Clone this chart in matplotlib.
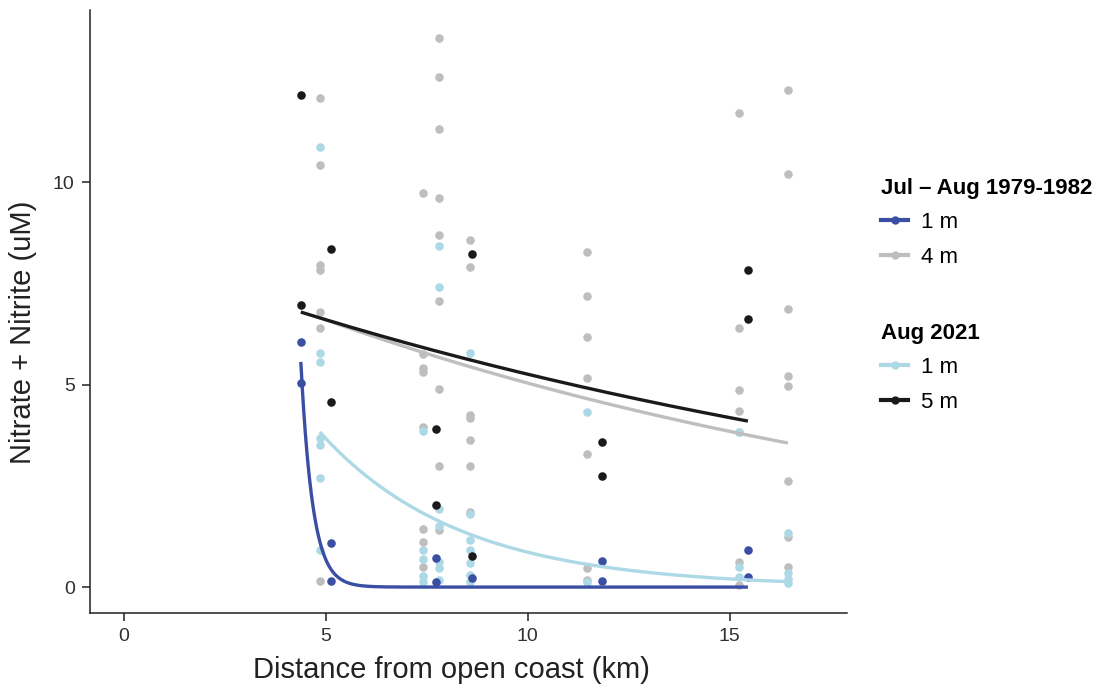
import numpy as np
import matplotlib
matplotlib.use('Agg')
import matplotlib.pyplot as plt
from matplotlib.lines import Line2D

plt.rcParams['font.family'] = ['Liberation Sans', 'DejaVu Sans']

# colours
c_dblue = '#3a4fa3'
c_grey = '#bebebe'
c_lblue = '#add8e6'
c_black = '#1a1a1a'

# points: (distance km, value uM)
dblue_x = [4.38, 4.38, 5.12, 5.12, 7.72, 7.72, 8.62, 11.83, 11.83, 15.45, 15.45]
dblue_y = [6.05, 5.04, 1.09, 0.15, 0.72, 0.12, 0.22, 0.64, 0.15, 0.91, 0.25]

black_x = [4.38, 4.38, 5.12, 5.12, 7.72, 7.72, 8.62, 8.62, 11.83, 11.83, 15.45, 15.45]
black_y = [12.15, 6.96, 8.35, 4.57, 3.90, 2.02, 8.22, 0.77, 3.58, 2.74, 7.83, 6.62]

grey_x = [4.85] * 7 + [7.40] * 8 + [7.80] * 9 + [8.58] * 7 + [11.46] * 7 + [15.22] * 7 + [16.44] * 8
grey_y = [12.07, 10.42, 7.95, 7.83, 6.79, 6.40, 0.15,
          9.73, 5.75, 5.41, 5.31, 3.95, 1.43, 1.11, 0.49,
          13.56, 12.59, 11.31, 9.60, 8.69, 7.06, 4.89, 2.99, 1.41,
          8.57, 7.90, 4.25, 4.17, 3.63, 2.99, 1.85,
          8.27, 7.19, 6.17, 5.16, 3.28, 0.47, 0.17,
          11.70, 6.40, 4.86, 4.35, 3.83, 0.62, 0.05,
          12.27, 10.20, 6.86, 5.21, 4.96, 2.62, 1.23, 0.49]

lblue_x = [4.85] * 7 + [7.40] * 5 + [7.80] * 7 + [8.58] * 7 + [11.46] * 2 + [15.22] * 3 + [16.44] * 4
lblue_y = [10.86, 5.78, 5.56, 3.68, 3.51, 2.69, 0.91,
           3.85, 0.91, 0.69, 0.27, 0.12,
           8.42, 7.41, 1.93, 1.51, 0.62, 0.47, 0.17,
           5.78, 1.80, 1.16, 0.91, 0.59, 0.30, 0.12,
           4.32, 0.12,
           3.83, 0.49, 0.25,
           1.33, 0.35, 0.20, 0.10]

# exponential fits y = a*exp(-k*(x-x0))
dblue_fit = (4.38, 15.45, 5.56, 3.4)
black_fit = (4.38, 15.45, 6.79, 0.0456)
grey_fit = (4.85, 16.44, 6.65, 0.054)
lblue_fit = (4.85, 16.44, 3.83, 0.29)

fig = plt.figure(figsize=(11.07, 6.9), dpi=100)
ax = fig.add_axes([0.0813, 0.1116, 0.6837, 0.874])

ms = 38
ax.scatter(grey_x, grey_y, s=ms, color=c_grey, lw=0, zorder=2)
ax.scatter(lblue_x, lblue_y, s=ms, color=c_lblue, lw=0, zorder=2)
ax.scatter(dblue_x, dblue_y, s=ms, color=c_dblue, lw=0, zorder=3)
ax.scatter(black_x, black_y, s=ms, color=c_black, lw=0, zorder=3)

for fit, col in [(grey_fit, c_grey), (lblue_fit, c_lblue), (black_fit, c_black), (dblue_fit, c_dblue)]:
    x0, x1, a, k = fit
    xx = np.linspace(x0, x1, 300)
    ax.plot(xx, a * np.exp(-k * (xx - x0)), color=col, lw=2.4, zorder=4, solid_capstyle='butt')

ax.set_xlim(-0.84, 17.9)
ax.set_ylim(-0.64, 14.25)
ax.set_xticks([0, 5, 10, 15])
ax.set_yticks([0, 5, 10])
ax.spines['top'].set_visible(False)
ax.spines['right'].set_visible(False)
for s in ['left', 'bottom']:
    ax.spines[s].set_linewidth(1.1)
    ax.spines[s].set_color('#222222')
ax.tick_params(labelsize=14, length=6, width=1.1, pad=5, colors='#222222', labelcolor='#303030')
ax.set_xlabel('Distance from open coast (km)', fontsize=21, color='#222222')
ax.set_ylabel('Nitrate + Nitrite (uM)', fontsize=21, color='#222222')
ax.xaxis.set_label_coords(0.478, -0.072)
ax.yaxis.set_label_coords(-0.07, 0.466)


def handle(col):
    return Line2D([0], [0], color=col, lw=3, marker='o', markersize=5)


leg1 = fig.legend([handle(c_dblue), handle(c_grey)], ['1 m', '4 m'],
                  title='Jul \u2013 Aug 1979-1982', loc='upper left',
                  bbox_to_anchor=(0.788, 0.755), frameon=False, fontsize=16,
                  title_fontproperties={'weight': 'bold', 'size': 16},
                  handlelength=1.2, handletextpad=0.6, labelspacing=0.6, borderaxespad=0)
leg1._legend_box.align = 'left'
leg2 = fig.legend([handle(c_lblue), handle(c_black)], ['1 m', '5 m'],
                  title='Aug 2021', loc='upper left',
                  bbox_to_anchor=(0.788, 0.545), frameon=False, fontsize=16,
                  title_fontproperties={'weight': 'bold', 'size': 16},
                  handlelength=1.2, handletextpad=0.6, labelspacing=0.6, borderaxespad=0)
leg2._legend_box.align = 'left'

fig.savefig('out.png', dpi=100)
